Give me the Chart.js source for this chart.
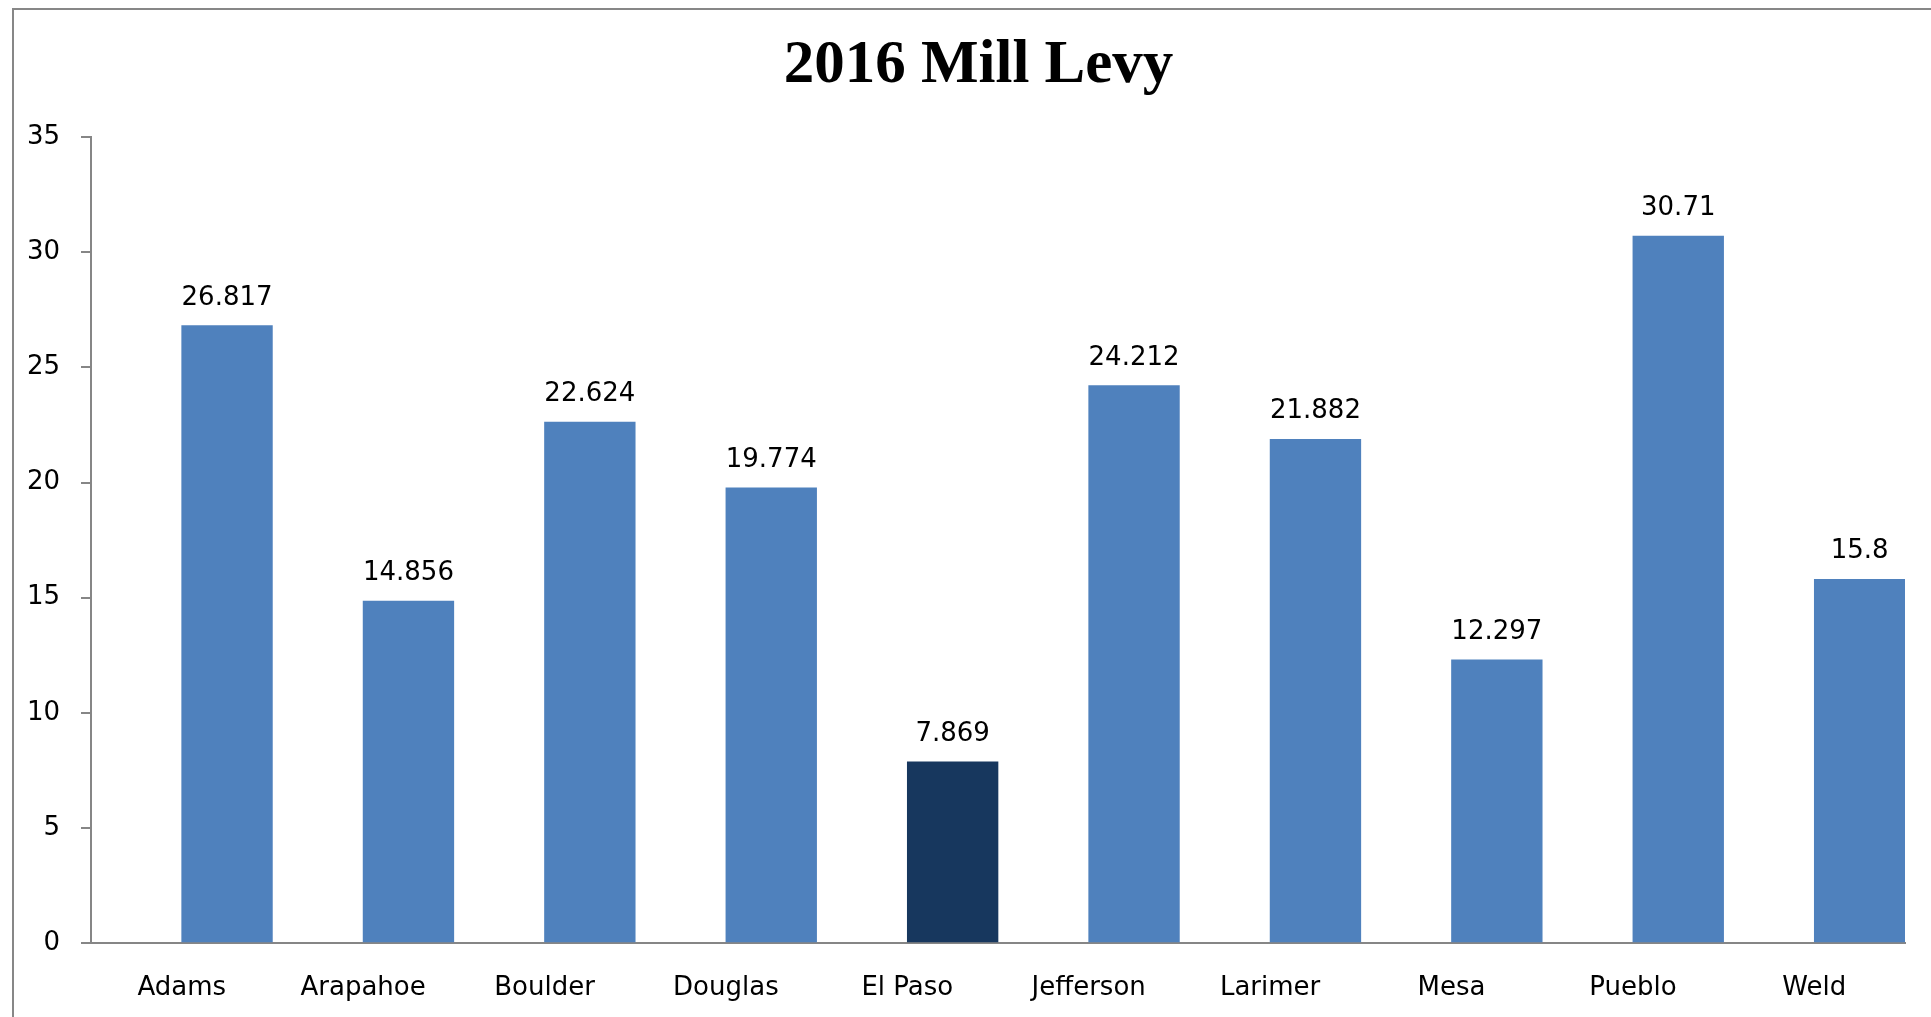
<!DOCTYPE html>
<html>
<head>
<meta charset="utf-8">
<title>2016 Mill Levy</title>
<script src="https://cdn.jsdelivr.net/npm/chart.js@4.4.1/dist/chart.umd.min.js"></script>
<style>
  html, body { margin: 0; padding: 0; background: #fff; overflow: hidden; }
  #frame {
    position: absolute; left: 12px; top: 8px;
    width: 1960px; height: 1040px;
    border: 2px solid #878787;
    pointer-events: none;
  }
  #chart { position: absolute; left: 0; top: 0; }
</style>
</head>
<body>
<canvas id="chart" width="1931" height="1017"></canvas>
<div id="frame"></div>
<script>
// data
const counties = ["Adams", "Arapahoe", "Boulder", "Douglas", "El Paso",
                  "Jefferson", "Larimer", "Mesa", "Pueblo", "Weld"];
const millLevy = [26.817, 14.856, 22.624, 19.774, 7.869,
                  24.212, 21.882, 12.297, 30.71, 15.8];
// the original sheet has an empty first series, which pushes the bars right of the labels
const emptySeries = counties.map(() => null);
const highlighted = "El Paso";
const yTicks = [0, 5, 10, 15, 20, 25, 30, 35];

const blue = "#4F81BD";
const navy = "#17375E";
const axisGrey = "#868686";

const valueLabels = {
  id: "valueLabels",
  afterDatasetsDraw(chart) {
    const ctx = chart.ctx;
    const meta = chart.getDatasetMeta(1);
    ctx.save();
    ctx.font = "26px 'DejaVu Sans'";
    ctx.fillStyle = "#000";
    ctx.textAlign = "center";
    ctx.textBaseline = "alphabetic";
    meta.data.forEach((bar, i) => {
      ctx.fillText(String(millLevy[i]), bar.x, bar.y - 21);
    });
    ctx.restore();
  }
};

const ctx = document.getElementById("chart").getContext("2d");
new Chart(ctx, {
  type: "bar",
  data: {
    labels: counties,
    datasets: [
      { label: "", data: emptySeries, backgroundColor: blue },
      {
        label: "2016 Mill Levy",
        data: millLevy,
        backgroundColor: counties.map(c => c === highlighted ? navy : blue)
      }
    ]
  },
  options: {
    responsive: false,
    animation: false,
    events: [],
    layout: { padding: { left: 26, right: 0, top: 0, bottom: 0 } },
    datasets: { bar: { categoryPercentage: 1.0, barPercentage: 1.0 } },
    plugins: {
      legend: { display: false },
      tooltip: { enabled: false },
      title: {
        display: true,
        text: "2016 Mill Levy",
        color: "#000",
        font: { family: "'Liberation Serif'", size: 61, weight: "bold" },
        padding: { top: 30, bottom: 34 }
      }
    },
    scales: {
      x: {
        grid: { display: false, drawTicks: false },
        border: { display: true, color: axisGrey, width: 2 },
        ticks: {
          color: "#000",
          font: { family: "'DejaVu Sans'", size: 26 },
          padding: 30,
          maxRotation: 0,
          autoSkip: false
        },
        afterFit(scale) { scale.height = 74; }
      },
      y: {
        min: 0,
        max: 35,
        afterBuildTicks(scale) { scale.ticks = yTicks.map(v => ({ value: v })); },
        grid: {
          display: true,
          drawOnChartArea: false,
          drawTicks: true,
          tickLength: 10,
          color: axisGrey,
          lineWidth: 2
        },
        border: { display: true, color: axisGrey, width: 2 },
        ticks: {
          color: "#000",
          font: { family: "'DejaVu Sans'", size: 26 },
          padding: 21
        },
        afterFit(scale) { scale.width = 65; }
      },
      // blank strip on the right, as in the cropped original
      yRight: {
        type: "linear",
        position: "right",
        min: 0,
        max: 35,
        grid: { display: false, drawTicks: false },
        border: { display: false },
        ticks: { display: false },
        afterFit(scale) { scale.width = 26; }
      }
    }
  },
  plugins: [valueLabels]
});
</script>
</body>
</html>
